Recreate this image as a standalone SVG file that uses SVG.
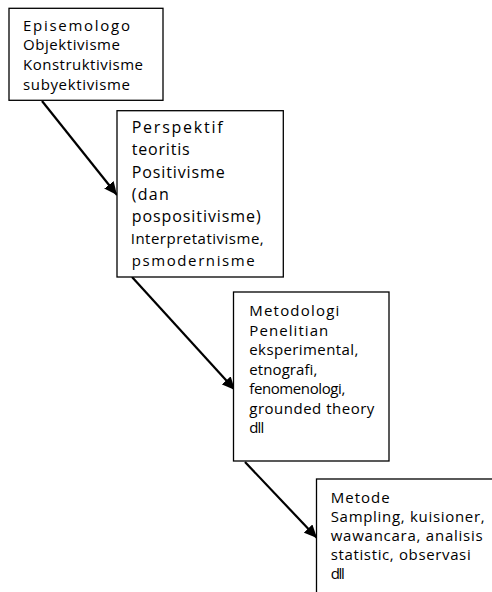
<svg xmlns="http://www.w3.org/2000/svg" width="492" height="592" viewBox="0 0 492 592">
  <style>
    .box { fill: #ffffff; stroke: #000000; stroke-width: 1.3; }
    .lbl { font-family: "Open Sans", "Noto Sans", "Liberation Sans", sans-serif; font-size: 15px; fill: #000000; }
    .big { font-size: 16px; }
    .arrow { stroke: #000000; stroke-width: 2.2; fill: none; marker-end: url(#head); }
  </style>
  <defs>
    <marker id="head" markerUnits="userSpaceOnUse" markerWidth="14" markerHeight="12" refX="13" refY="6" orient="auto">
      <path d="M0,0 L13,6 L0,12 Z" fill="#000000"/>
    </marker>
  </defs>

  <rect width="492" height="592" fill="#ffffff"/>

  <g id="connectors">
    <line class="arrow" x1="42" y1="101" x2="117" y2="195"/>
    <line class="arrow" x1="132" y1="277" x2="235" y2="390"/>
    <line class="arrow" x1="245" y1="462" x2="317" y2="538"/>
  </g>

  <g id="epistemologi">
    <rect class="box" x="9" y="8.3" width="154" height="92"/>
    <text class="lbl" x="23" y="30.5" textLength="107" lengthAdjust="spacing">Episemologo</text>
    <text class="lbl" x="23" y="50.2" textLength="97" lengthAdjust="spacing">Objektivisme</text>
    <text class="lbl" x="23" y="69.9" textLength="120" lengthAdjust="spacing">Konstruktivisme</text>
    <text class="lbl" x="23" y="89.6" textLength="107" lengthAdjust="spacing">subyektivisme</text>
  </g>

  <g id="perspektif">
    <rect class="box" x="117" y="110.7" width="166.3" height="166.3"/>
    <text class="lbl big" x="131.7" y="133" textLength="91" lengthAdjust="spacing">Perspektif</text>
    <text class="lbl big" x="131.7" y="155" textLength="58" lengthAdjust="spacing">teoritis</text>
    <text class="lbl big" x="131.7" y="178" textLength="93" lengthAdjust="spacing">Positivisme</text>
    <text class="lbl big" x="131.7" y="200" textLength="37" lengthAdjust="spacing">(dan</text>
    <text class="lbl big" x="131.7" y="222" textLength="129" lengthAdjust="spacing">pospositivisme)</text>
    <text class="lbl" x="130.7" y="244" textLength="133" lengthAdjust="spacing">Interpretativisme,</text>
    <text class="lbl" x="131.7" y="266" textLength="123" lengthAdjust="spacing">psmodernisme</text>
  </g>

  <g id="metodologi">
    <rect class="box" x="233.5" y="292" width="155.5" height="169"/>
    <text class="lbl" x="249.3" y="316" textLength="90" lengthAdjust="spacing">Metodologi</text>
    <text class="lbl" x="249.3" y="335.5" textLength="79" lengthAdjust="spacing">Penelitian</text>
    <text class="lbl" x="249.3" y="355" textLength="109" lengthAdjust="spacing">eksperimental,</text>
    <text class="lbl" x="249.3" y="374.5" textLength="68" lengthAdjust="spacing">etnografi,</text>
    <text class="lbl" x="249.3" y="394" textLength="96" lengthAdjust="spacing">fenomenologi,</text>
    <text class="lbl" x="249.3" y="413.5" textLength="125" lengthAdjust="spacing">grounded theory</text>
    <text class="lbl" x="249.3" y="433" textLength="15" lengthAdjust="spacing">dll</text>
  </g>

  <g id="metode">
    <rect class="box" x="316.5" y="479" width="200" height="140"/>
    <text class="lbl" x="330.7" y="503" textLength="59" lengthAdjust="spacing">Metode</text>
    <text class="lbl" x="330.7" y="522" textLength="154" lengthAdjust="spacing">Sampling, kuisioner,</text>
    <text class="lbl" x="330.7" y="541" textLength="152" lengthAdjust="spacing">wawancara, analisis</text>
    <text class="lbl" x="330.7" y="560" textLength="140" lengthAdjust="spacing">statistic, observasi</text>
    <text class="lbl" x="330.7" y="579" textLength="14" lengthAdjust="spacing">dll</text>
  </g>
</svg>
